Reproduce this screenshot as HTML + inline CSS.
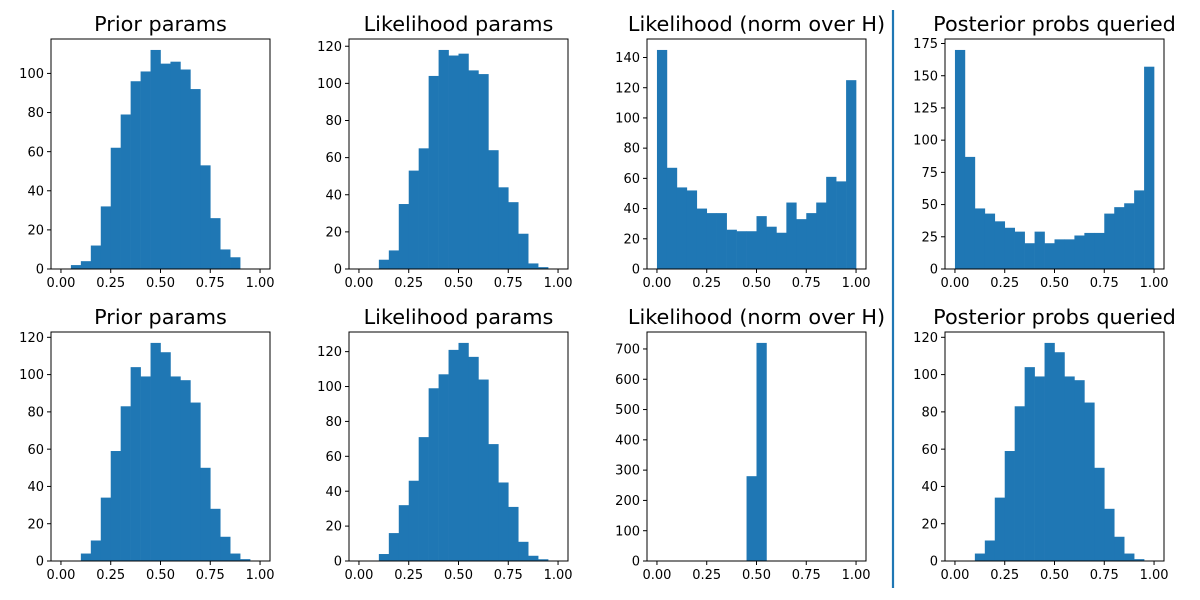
<!DOCTYPE html>
<html><head><meta charset="utf-8"><style>
html,body{margin:0;padding:0;background:#fff;}
svg{display:block;font-family:"DejaVu Sans","Liberation Sans",sans-serif;}
</style></head><body>
<svg id="fig" width="1200" height="600" viewBox="0 0 1200 600" xmlns="http://www.w3.org/2000/svg">
<rect width="1200" height="600" fill="#fff"/>
<line x1="893" y1="10" x2="893" y2="588" stroke="#1f77b4" stroke-width="2.2"/>
</svg>
<script>
const binEdges = [0,0.05,0.1,0.15,0.2,0.25,0.3,0.35,0.4,0.45,0.5,0.55,0.6,0.65,0.7,0.75,0.8,0.85,0.9,0.95,1.0];
const xTickLabels = ["0.00","0.25","0.50","0.75","1.00"];
const titles = ["Prior params","Likelihood params","Likelihood (norm over H)","Posterior probs queried","Prior params","Likelihood params","Likelihood (norm over H)","Posterior probs queried"];
const topPriorCounts = [0,2,4,12,32,62,79,96,101,112,105,106,102,92,53,26,10,6,0,0];
const topLikParamCounts = [0,0,5,10,35,53,65,104,118,115,116,107,105,64,44,36,19,3,1,0];
const topLikNormCounts = [145,67,54,52,40,37,37,26,25,25,35,28,24,44,33,37,44,61,58,125];
const topPosteriorCounts = [170,87,47,43,37,32,29,20,29,20,23,23,26,28,28,43,48,51,61,157];
const botPriorCounts = [0,0,4,11,34,59,83,104,99,117,112,99,97,85,50,28,13,4,1,0];
const botLikParamCounts = [0,0,4,16,32,46,71,99,107,121,125,117,104,67,45,31,11,3,1,0];
const botLikNormCounts = [0,0,0,0,0,0,0,0,0,280,720,0,0,0,0,0,0,0,0,0];
const botPosteriorCounts = [0,0,4,11,34,59,83,104,99,117,112,99,97,85,50,28,13,4,1,0];
const yTickSteps = [20,20,20,25,20,20,100,20];

const NS="http://www.w3.org/2000/svg";
const svg=document.getElementById('fig');
function el(t,a,p){const e=document.createElementNS(NS,t);for(const k in a)e.setAttribute(k,a[k]);(p||svg).appendChild(e);return e;}
const series=[topPriorCounts,topLikParamCounts,topLikNormCounts,topPosteriorCounts,botPriorCounts,botLikParamCounts,botLikNormCounts,botPosteriorCounts];
const names=["top-prior","top-likelihood-params","top-likelihood-norm","top-posterior","bottom-prior","bottom-likelihood-params","bottom-likelihood-norm","bottom-posterior"];
const colsX=[[51,270],[349,568],[647,866],[945,1164]];
const rowsY=[[39,269],[332,561]];
series.forEach((counts,i)=>{
  const [x0,x1]=colsX[i%4],[y0,y1]=rowsY[Math.floor(i/4)];
  const g=el('g',{});
  
  
  const xs=v=>x0+(v+0.05)/1.1*(x1-x0);
  const ymax=Math.max(...counts)*1.05;
  const ys=v=>y1-v/ymax*(y1-y0);
  counts.forEach((c,j)=>{
    if(c<=0)return;
    const r=el('rect',{x:xs(binEdges[j]),y:ys(c),width:xs(binEdges[j+1])-xs(binEdges[j])+0.3,height:y1-ys(c),fill:'#1f77b4'},g);
    
    
  });
  const fr=el('rect',{x:x0,y:y0,width:x1-x0,height:y1-y0,fill:'none',stroke:'#000','stroke-width':1},g);
  
  
  xTickLabels.forEach(l=>{
    const x=xs(parseFloat(l));
    el('line',{x1:x,x2:x,y1:y1,y2:y1+4,stroke:'#000'},g);
    const t=el('text',{x:x,y:y1+18,'font-size':13,'text-anchor':'middle',fill:'#000'},g);
    t.textContent=l;
    
    
  });
  const st=yTickSteps[i];
  for(let v=0;v<=ymax;v+=st){
    const y=ys(v);
    el('line',{x1:x0-4,x2:x0,y1:y,y2:y,stroke:'#000'},g);
    const t=el('text',{x:x0-7,y:y+4.6,'font-size':13,'text-anchor':'end',fill:'#000'},g);
    t.textContent=String(v);
    
    
  }
  const tt=el('text',{x:(x0+x1)/2,y:y0-8,'font-size':20.8,'text-anchor':'middle',fill:'#000'},g);
  tt.textContent=titles[i];
  
  
});
</script>
</body></html>
